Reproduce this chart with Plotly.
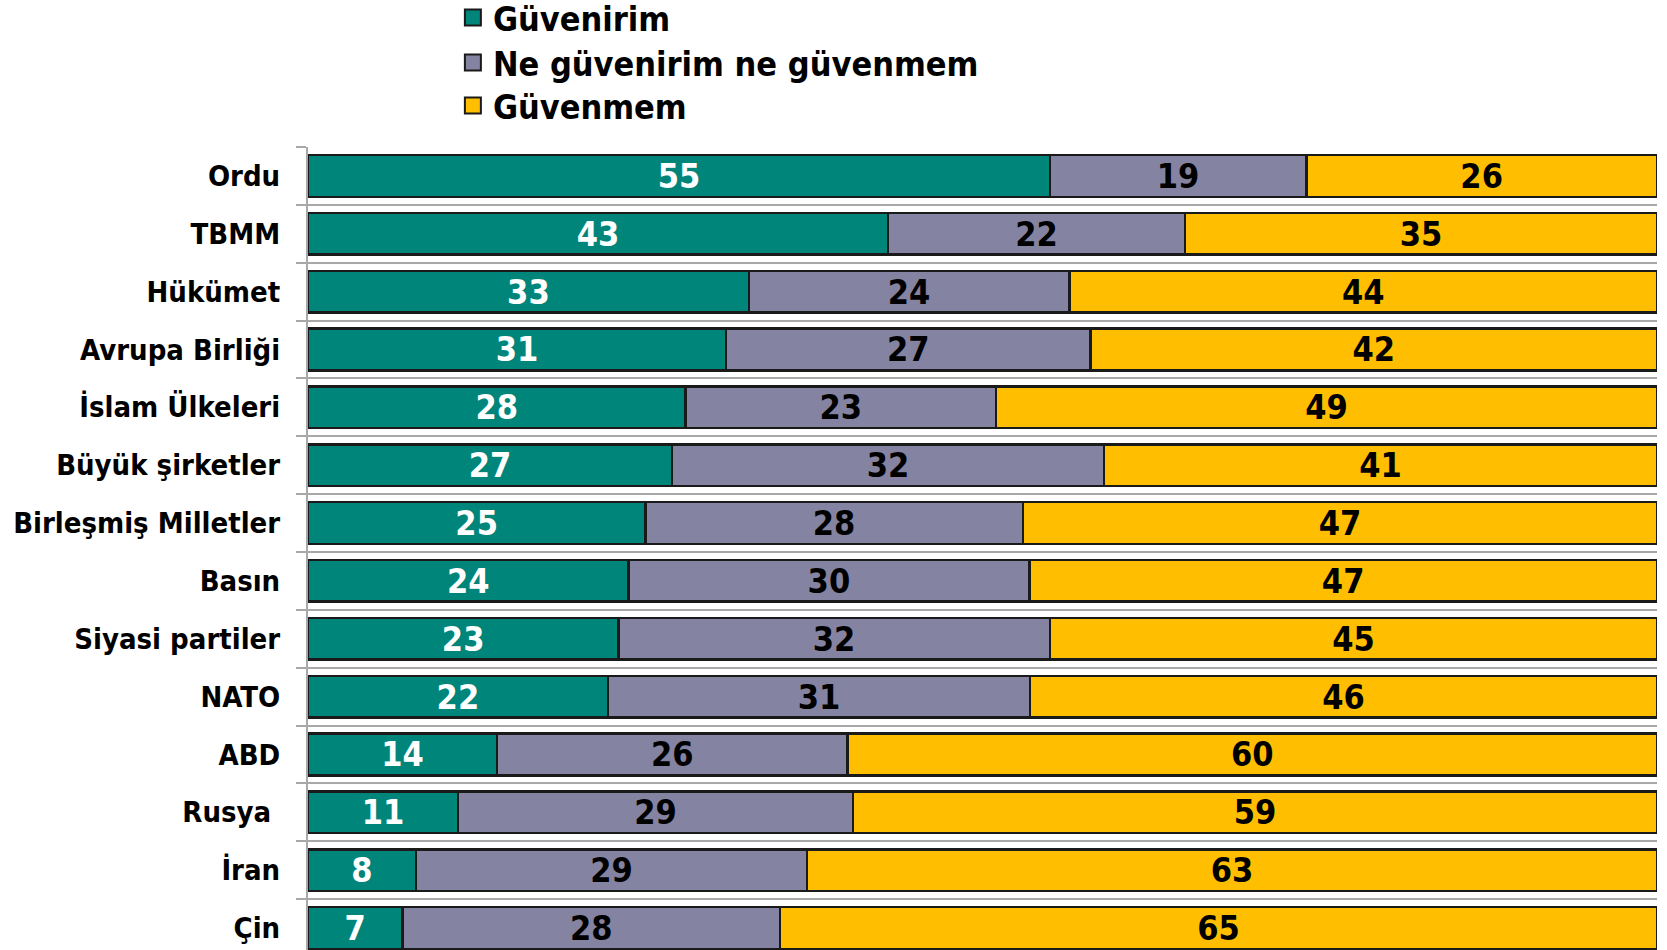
import plotly.graph_objects as go

categories = ["Ordu", "TBMM", "Hükümet", "Avrupa Birliği", "İslam Ülkeleri", "Büyük şirketler",
              "Birleşmiş Milletler", "Basın", "Siyasi partiler", "NATO", "ABD", "Rusya ", "İran", "Çin"]
guvenirim = [55, 43, 33, 31, 28, 27, 25, 24, 23, 22, 14, 11, 8, 7]
ne_ne = [19, 22, 24, 27, 23, 32, 28, 30, 32, 31, 26, 29, 29, 28]
guvenmem = [26, 35, 44, 42, 49, 41, 47, 47, 45, 46, 60, 59, 63, 65]

series = [
    ("Güvenirim", guvenirim, "#00857A", "white"),
    ("Ne güvenirim ne güvenmem", ne_ne, "#8484A2", "black"),
    ("Güvenmem", guvenmem, "#FFBF00", "black"),
]

FONT = "DejaVu Sans Condensed"
legend_ids = ["legend", "legend2", "legend3"]
legend_y = [1.1968, 1.1407, 1.0872]

fig = go.Figure()
for name, vals, color, tcolor in series:
    fig.add_trace(go.Bar(
        y=categories, x=vals, name=name, orientation="h", showlegend=False,
        marker=dict(color=color, line=dict(color="#1a1a1a", width=2.5)),
        text=vals, texttemplate="%{text}", textposition="inside",
        insidetextanchor="middle", textangle=0, constraintext="none",
        textfont=dict(family=FONT, size=34, color=tcolor, weight="bold"),
        hoverinfo="skip",
    ))
# legend entries (square swatches), one legend per row for exact spacing
for (name, vals, color, tcolor), lid in zip(series, legend_ids):
    fig.add_trace(go.Scatter(
        x=[None], y=[None], mode="markers", name=name, legend=lid,
        marker=dict(symbol="square", size=19, color=color,
                    line=dict(color="#1a1a1a", width=2)),
        hoverinfo="skip",
    ))

legend_common = dict(
    x=0.1074, xanchor="left", yanchor="top", orientation="v",
    itemsizing="trace", bgcolor="rgba(0,0,0,0)",
    font=dict(family=FONT, size=34, color="black", weight="bold"),
)
fig.update_layout(
    barmode="stack", barnorm="percent", bargap=0.28,
    width=1667, height=950,
    margin=dict(l=308, r=10, t=147, b=0, autoexpand=False),
    plot_bgcolor="white", paper_bgcolor="white",
    font=dict(family=FONT, color="black"),
    legend=dict(y=legend_y[0], **legend_common),
    legend2=dict(y=legend_y[1], **legend_common),
    legend3=dict(y=legend_y[2], **legend_common),
)
fig.update_xaxes(range=[0, 100], showticklabels=False, showgrid=False,
                 zeroline=False, showline=False, ticks="")
fig.update_yaxes(
    type="category", categoryorder="array", categoryarray=categories,
    range=[13.38, -0.5], tickson="boundaries",
    showgrid=True, gridcolor="#a8a8a8", gridwidth=2,
    showline=True, linecolor="#a8a8a8", linewidth=2,
    ticks="outside", ticklen=10, tickcolor="#a8a8a8", tickwidth=2,
    ticklabelstandoff=20,
    tickfont=dict(family=FONT, size=29, color="black", weight="bold"),
)

fig.write_html("out.html", config={"displayModeBar": False},
               post_script="document.body.style.margin='0px';")
